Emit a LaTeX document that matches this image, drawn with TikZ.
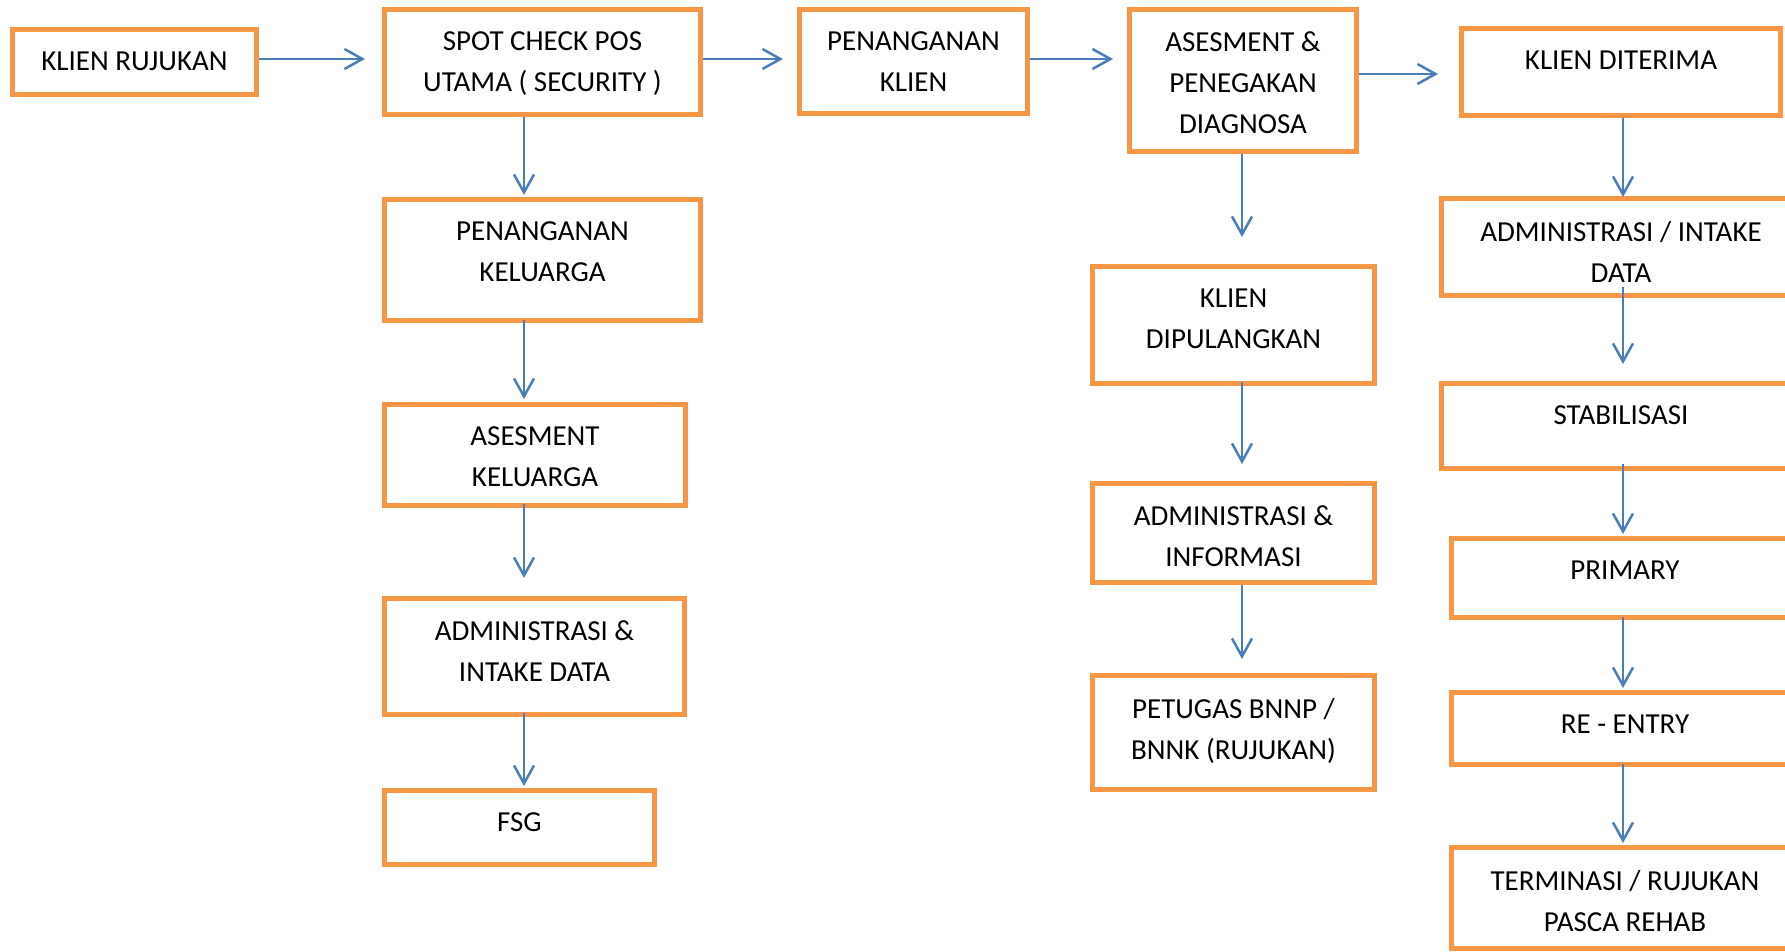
\documentclass[tikz,border=0pt]{standalone}
\usepackage{fontspec}
\setmainfont{Carlito}
\usetikzlibrary{positioning,arrows.meta}
\definecolor{oranye}{HTML}{F79646}
\definecolor{biru}{HTML}{4A7EBB}
\tikzstyle{kotak} = [rectangle, draw=oranye, line width=2.5pt, fill=white]
\tikzstyle{teks} = [anchor=north, inner sep=0pt, align=center, font=\fontsize{14.5}{20.5}\selectfont]
\tikzstyle{panah} = [draw=biru, line width=1.25pt, -{Straight Barb[length=9pt,width=10pt]}]

\begin{document}
\begin{tikzpicture}[x=0.5pt, y=-0.5pt]
  \useasboundingbox (0,0) rectangle (1785,952);
  \clip (0,0) rectangle (1785,952);
  % baris atas
  \node (rujukan)[kotak, minimum width=122pt, minimum height=32.5pt] at (134.5,62) {};
  \node (spot)[kotak, minimum width=158pt, minimum height=52.5pt] at (542.5,62) {};
  \node (klien)[kotak, minimum width=114pt, minimum height=52pt] at (913.5,61.5) {};
  \node (asesmen)[kotak, minimum width=113.5pt, minimum height=71pt] at (1243,80.5) {};
  \node (diterima)[kotak, minimum width=159.5pt, minimum height=43.5pt] at (1621,72) {};
  % kolom keluarga
  \node (pkel)[kotak, minimum width=158pt, minimum height=60.5pt] at (542.5,260) {};
  \node (akel)[kotak, minimum width=150.5pt, minimum height=50.5pt] at (535,455) {};
  \node (admkel)[kotak, minimum width=150pt, minimum height=58pt] at (534.5,656.5) {};
  \node (fsg)[kotak, minimum width=135pt, minimum height=37pt] at (519.5,827.5) {};
  % kolom dipulangkan
  \node (pulang)[kotak, minimum width=141pt, minimum height=58.5pt] at (1233.5,325) {};
  \node (adminfo)[kotak, minimum width=141pt, minimum height=49.5pt] at (1233.5,533) {};
  \node (petugas)[kotak, minimum width=141pt, minimum height=57pt] at (1233.5,732.5) {};
  % kolom diterima
  \node (intake)[kotak, minimum width=179.5pt, minimum height=48.5pt] at (1621,247) {};
  \node (stab)[kotak, minimum width=179.5pt, minimum height=42.5pt] at (1621,426) {};
  \node (primary)[kotak, minimum width=173.5pt, minimum height=39.5pt] at (1625,578) {};
  \node (reentry)[kotak, minimum width=173.5pt, minimum height=36pt] at (1625,728.5) {};
  \node (terminasi)[kotak, minimum width=173.5pt, minimum height=50.5pt] at (1625,898) {};

  \node (rujukan-t)[teks, below=12.25pt of rujukan.north]{KLIEN RUJUKAN};
  \node (spot-t)[teks, below=12.25pt of spot.north]{SPOT CHECK POS\\UTAMA ( SECURITY )};
  \node (klien-t)[teks, below=12.25pt of klien.north]{PENANGANAN\\KLIEN};
  \node (asesmen-t)[teks, below=12.25pt of asesmen.north]{ASESMENT \&\\PENEGAKAN\\DIAGNOSA};
  \node (diterima-t)[teks, below=12.25pt of diterima.north]{KLIEN DITERIMA};
  \node (pkel-t)[teks, below=12.25pt of pkel.north]{PENANGANAN\\KELUARGA};
  \node (akel-t)[teks, below=12.25pt of akel.north]{ASESMENT\\KELUARGA};
  \node (admkel-t)[teks, below=12.25pt of admkel.north]{ADMINISTRASI \&\\INTAKE DATA};
  \node (fsg-t)[teks, below=12.25pt of fsg.north]{FSG};
  \node (pulang-t)[teks, below=12.25pt of pulang.north]{KLIEN\\DIPULANGKAN};
  \node (adminfo-t)[teks, below=12.25pt of adminfo.north]{ADMINISTRASI \&\\INFORMASI};
  \node (petugas-t)[teks, below=12.25pt of petugas.north]{PETUGAS BNNP /\\BNNK (RUJUKAN)};
  \node (intake-t)[teks, below=12.25pt of intake.north]{ADMINISTRASI / INTAKE\\DATA};
  \node (stab-t)[teks, below=12.25pt of stab.north]{STABILISASI};
  \node (primary-t)[teks, below=12.25pt of primary.north]{PRIMARY};
  \node (reentry-t)[teks, below=12.25pt of reentry.north]{RE - ENTRY};
  \node (terminasi-t)[teks, below=12.25pt of terminasi.north]{TERMINASI / RUJUKAN\\PASCA REHAB};

  \coordinate (kiri) at (524,0);
  \coordinate (tengah) at (1242,0);
  \coordinate (kanan) at (1623,0);
  \coordinate (baris) at (0,59);
  \coordinate (baris2) at (0,74);

  \draw[panah, shorten >=8.5pt] (rujukan.east |- baris)--(spot.west |- baris);
  \draw[panah, shorten >=7pt] (spot.east |- baris)--(klien.west |- baris);
  \draw[panah, shorten >=7pt] (klien.east |- baris)--(asesmen.west |- baris);
  \draw[panah, shorten >=10.5pt] (asesmen.east |- baris2)--(diterima.west |- baris2);
  \draw[panah, shorten >=1pt] (spot.south -| kiri)--(pkel.north -| kiri);
  \draw[panah, shorten <=-1.5pt, shorten >=1.5pt] (pkel.south -| kiri)--(akel.north -| kiri);
  \draw[panah, shorten <=-2pt, shorten >=9pt] (akel.south -| kiri)--(admkel.north -| kiri);
  \draw[panah, shorten <=-2pt, shorten >=1pt] (admkel.south -| kiri)--(fsg.north -| kiri);
  \draw[panah, shorten >=13.5pt] (asesmen.south -| tengah)--(pulang.north -| tengah);
  \draw[panah, shorten <=-2pt, shorten >=8.5pt] (pulang.south -| tengah)--(adminfo.north -| tengah);
  \draw[panah, shorten >=7pt] (adminfo.south -| tengah)--(petugas.north -| tengah);
  \draw[panah, shorten >=-0.5pt] (diterima.south -| kanan)--(intake.north -| kanan);
  \draw[panah, shorten <=-5.5pt, shorten >=8.5pt] (intake.south -| kanan)--(stab.north -| kanan);
  \draw[panah, shorten <=-3.5pt, shorten >=1pt] (stab.south -| kanan)--(primary.north -| kanan);
  \draw[panah, shorten <=-1.5pt, shorten >=1pt] (primary.south -| kanan)--(reentry.north -| kanan);
  \draw[panah, shorten <=-1.5pt, shorten >=1pt] (reentry.south -| kanan)--(terminasi.north -| kanan);
\end{tikzpicture}
\end{document}
